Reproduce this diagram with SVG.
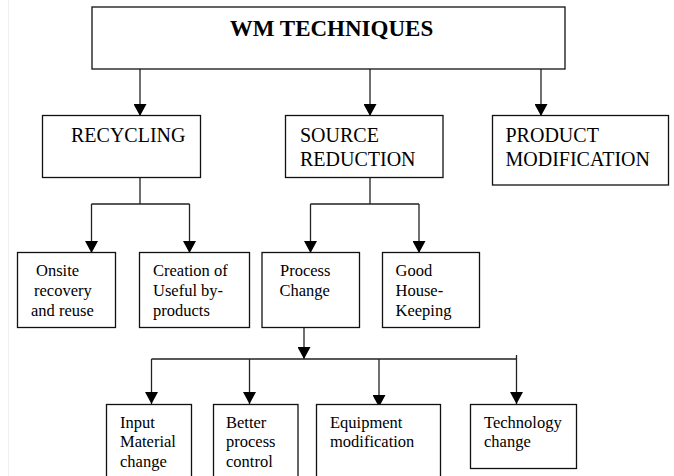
<svg xmlns="http://www.w3.org/2000/svg" width="674" height="476" viewBox="0 0 674 476">
<style>
.box{fill:#fff;stroke:#111;stroke-width:1.3}
.ln{fill:none;stroke:#222;stroke-width:1.3}
text{font-family:"Liberation Serif","Times New Roman",serif;fill:#000}
.t1{font-size:23px;font-weight:bold}
.t2{font-size:20px}
.t3{font-size:16.5px}
</style>
<defs>
<marker id="ad" markerUnits="userSpaceOnUse" markerWidth="14" markerHeight="13" viewBox="0 0 14 13" refX="12" refY="6.5" orient="auto">
<path d="M0,0 L12,6.5 L0,13 Z" fill="#000"/>
</marker>
</defs>
<rect width="674" height="476" fill="#fff"/>
<line x1="8.5" y1="0" x2="8.5" y2="476" stroke="#f0f0f0" stroke-width="1"/>
<g id="connectors">
<line class="ln" x1="140" y1="69" x2="140" y2="116" marker-end="url(#ad)"/>
<line class="ln" x1="370" y1="69" x2="370" y2="116" marker-end="url(#ad)"/>
<line class="ln" x1="541" y1="69" x2="541" y2="116" marker-end="url(#ad)"/>
<path class="ln" d="M140,178 V204 M91.5,204 H189.5"/>
<line class="ln" x1="91.5" y1="204" x2="91.5" y2="253" marker-end="url(#ad)"/>
<line class="ln" x1="189.5" y1="204" x2="189.5" y2="253" marker-end="url(#ad)"/>
<path class="ln" d="M370,178 V204 M310.5,204 H419"/>
<line class="ln" x1="310.5" y1="204" x2="310.5" y2="253" marker-end="url(#ad)"/>
<line class="ln" x1="419" y1="204" x2="419" y2="253" marker-end="url(#ad)"/>
<line class="ln" x1="304" y1="328" x2="304" y2="359" marker-end="url(#ad)"/>
<path class="ln" d="M151.5,359 H516.5 M516.5,355 V359"/>
<line class="ln" x1="151.5" y1="359" x2="151.5" y2="404" marker-end="url(#ad)"/>
<line class="ln" x1="249.5" y1="359" x2="249.5" y2="404" marker-end="url(#ad)"/>
<line class="ln" x1="379" y1="359" x2="379" y2="407" marker-end="url(#ad)"/>
<line class="ln" x1="516.5" y1="359" x2="516.5" y2="404" marker-end="url(#ad)"/>
</g>
<g id="wm">
<rect class="box" x="92" y="7" width="473" height="62"/>
<text class="t1" x="331.5" y="36" text-anchor="middle">WM TECHNIQUES</text>
</g>
<g id="recycling">
<rect class="box" x="42.5" y="115.5" width="158" height="62"/>
<text class="t2" x="71" y="142">RECYCLING</text>
</g>
<g id="source">
<rect class="box" x="285.5" y="115.5" width="157.5" height="62"/>
<text class="t2" x="300" y="142">SOURCE</text>
<text class="t2" x="300" y="166">REDUCTION</text>
</g>
<g id="product">
<rect class="box" x="492.5" y="115.5" width="176" height="69.5"/>
<text class="t2" x="505.5" y="142">PRODUCT</text>
<text class="t2" x="505.5" y="166">MODIFICATION</text>
</g>
<g id="onsite">
<rect class="box" x="17.5" y="252.5" width="98" height="75"/>
<text class="t3" x="36" y="276">Onsite</text>
<text class="t3" x="34" y="296">recovery</text>
<text class="t3" x="31" y="315.5">and reuse</text>
</g>
<g id="creation">
<rect class="box" x="139.5" y="252.5" width="110" height="75"/>
<text class="t3" x="153" y="276">Creation of</text>
<text class="t3" x="153" y="296">Useful by-</text>
<text class="t3" x="153" y="315.5">products</text>
</g>
<g id="process">
<rect class="box" x="262" y="252.5" width="97.5" height="75"/>
<text class="t3" x="280" y="276">Process</text>
<text class="t3" x="279.5" y="296">Change</text>
</g>
<g id="good">
<rect class="box" x="382.5" y="252.5" width="97" height="75"/>
<text class="t3" x="395.5" y="276">Good</text>
<text class="t3" x="395.5" y="296">House-</text>
<text class="t3" x="395.5" y="315.5">Keeping</text>
</g>
<g id="input">
<rect class="box" x="106.5" y="404.5" width="85" height="80"/>
<text class="t3" x="120" y="427.5">Input</text>
<text class="t3" x="120" y="447">Material</text>
<text class="t3" x="120" y="467">change</text>
</g>
<g id="better">
<rect class="box" x="213.5" y="404.5" width="84.5" height="80"/>
<text class="t3" x="226" y="427.5">Better</text>
<text class="t3" x="226" y="447">process</text>
<text class="t3" x="226" y="467">control</text>
</g>
<g id="equipment">
<rect class="box" x="316.5" y="404.5" width="124" height="80"/>
<text class="t3" x="330" y="427.5">Equipment</text>
<text class="t3" x="330" y="447">modification</text>
</g>
<g id="technology">
<rect class="box" x="470.5" y="404.5" width="106" height="64"/>
<text class="t3" x="484" y="427.5">Technology</text>
<text class="t3" x="484" y="447">change</text>
</g>
</svg>
